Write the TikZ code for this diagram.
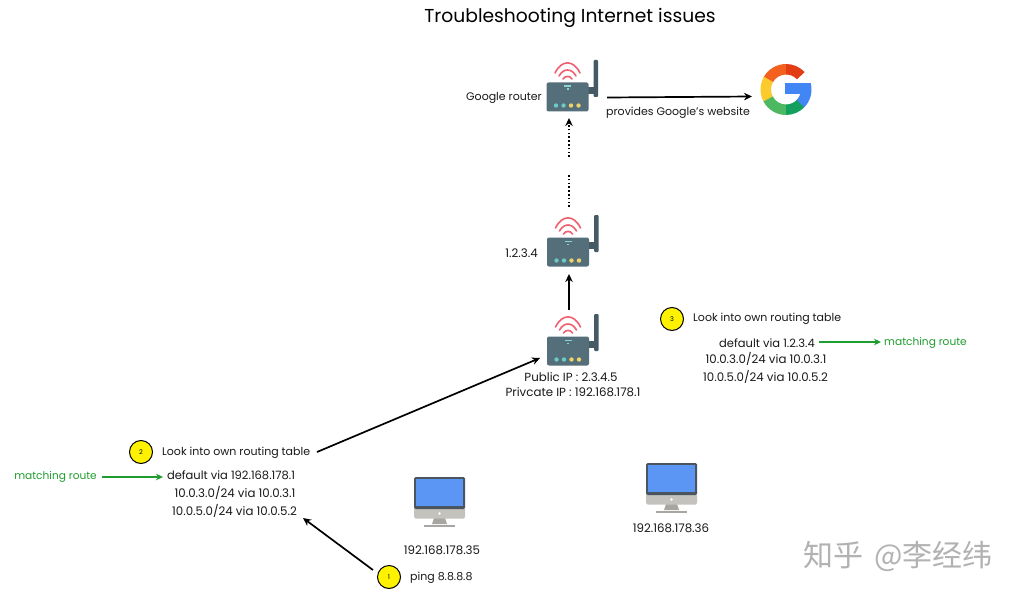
\documentclass[tikz,border=0pt]{standalone}
\usepackage{fontspec}
\setmainfont{Poppins}
\newfontfamily\cjkfont{Noto Sans CJK SC}
\usetikzlibrary{arrows.meta}
\definecolor{routerbody}{HTML}{546E7A}
\definecolor{antenna}{HTML}{455A64}
\definecolor{wifired}{HTML}{EF5F70}
\definecolor{ledcyan}{HTML}{6CCBC4}
\definecolor{ledyellow}{HTML}{EFD36A}
\definecolor{greenroute}{HTML}{1E9E2E}
\definecolor{screenblue}{HTML}{5B96F5}
\definecolor{monframe}{HTML}{4A5560}
\definecolor{monchin}{HTML}{C4C2BC}
\definecolor{monstand}{HTML}{A8A6A0}
\definecolor{gblue}{HTML}{4285F4}
\definecolor{ggreen}{HTML}{4CB861}
\definecolor{gdark}{HTML}{12A05C}
\definecolor{gyellow}{HTML}{FBCB2D}
\definecolor{gorange}{HTML}{F4611E}
\definecolor{gred}{HTML}{E23D15}
\tikzset{
  lbl/.style={font=\fontsize{11}{12}\selectfont, inner sep=0pt, text=black!90},
  numlbl/.style={font=\fontsize{11.8}{13}\selectfont, inner sep=0pt, text=black!90},
  deflbl/.style={font=\fontsize{11.5}{13}\selectfont, inner sep=0pt, text=black!90},
  greenlbl/.style={font=\fontsize{10.6}{12}\selectfont, inner sep=0pt, text=greenroute},
  arr/.style={-{Stealth[length=8pt,width=7.5pt]}, line width=1.7pt, black},
  dotarr/.style={-{Stealth[length=8pt,width=7.5pt]}, line width=1.6pt, black, dash pattern=on 1.6pt off 2.2pt},
  dotline/.style={line width=1.6pt, black, dash pattern=on 1.6pt off 2.2pt},
  greenarr/.style={-{Stealth[length=7pt,width=6.5pt]}, line width=1.4pt, greenroute},
  stepmark/.style={circle, draw=black, line width=1pt, fill=yellow, minimum size=23pt, inner sep=0pt, font=\fontsize{6.5}{7}\selectfont},
  routerbox/.style={rectangle, rounded corners=2pt, fill=routerbody, minimum width=42pt, minimum height=29pt, inner sep=0pt},
  wifi/.style={wifired, line width=1.6pt, line cap=round}
}
% #1 name, #2 x of body centre, #3 y of body centre
\newcommand{\routerdraw}[3]{%
  \fill[antenna, rounded corners=1pt] (#2+26,#3-37) rectangle (#2+30.5,#3+0);
  \fill[antenna] (#2+20,#3-10) rectangle (#2+27,#3-3);
  \node[routerbox] (#1) at (#2,#3) {};
  \draw[wifi] (#2-12.5,#3-24) .. controls (#2-6,#3-37.5) and (#2+6,#3-37.5) .. (#2+12.5,#3-24);
  \draw[wifi] (#2-8.5,#3-21) .. controls (#2-4,#3-29) and (#2+4,#3-29) .. (#2+8.5,#3-21);
  \draw[wifi] (#2-4.5,#3-18) .. controls (#2-2,#3-21.5) and (#2+2,#3-21.5) .. (#2+4.5,#3-18);
  \fill[ledcyan!80!white] (#2-3.5,#3-11.5) rectangle (#2+3.5,#3-10);
  \fill[ledcyan!80!white] (#2-1,#3-8.5) rectangle (#2+1,#3-7);
  \fill[ledcyan] (#2-11.5,#3+8.5) circle (2.2);
  \fill[ledcyan] (#2-4,#3+8.5) circle (2.2);
  \fill[ledyellow] (#2+3.5,#3+8.5) circle (2.2);
  \fill[ledyellow] (#2+11,#3+8.5) circle (2.2);
}
% #1 name, #2 left x, #3 top y
\newcommand{\monitordraw}[3]{%
  \fill[monstand] (#2+20,#3+41) -- (#2+31,#3+41) -- (#2+33,#3+47) -- (#2+18,#3+47) -- cycle;
  \fill[monstand] (#2+10,#3+47.5) rectangle (#2+41,#3+49.5);
  \fill[monchin, rounded corners=1.5pt] (#2,#3+28) rectangle (#2+51,#3+41.5);
  \fill[monframe, rounded corners=1.5pt] (#2,#3) rectangle (#2+51,#3+32);
  \node[fill=screenblue, minimum width=47pt, minimum height=27pt, inner sep=0pt] (#1) at (#2+25.5,#3+15) {};
  \fill[white] (#2+25.5,#3+36.5) circle (1.3);
}
\newcommand{\gsector}[3]{%
  \fill[#1] (#2:25.5) arc[start angle=#2, end angle=#3, radius=25.5]
    -- (#3:15) arc[start angle=#3, end angle=#2, radius=15] -- cycle;
}
\begin{document}
\begin{tikzpicture}[x=1pt,y=-1pt]
\useasboundingbox (0,0) rectangle (1016,596);
\fill[white] (0,0) rectangle (1016,596);

\node[font=\fontsize{18.7}{20}\selectfont, inner sep=0pt, text=black] (title) at (570,18) {Troubleshooting Internet issues};

\routerdraw{rgoogle}{567.5}{97}
\routerdraw{rmid}{568}{252}
\routerdraw{rhome}{568}{351}

% Google logo
\begin{scope}[shift={(786,89.5)}]
  \gsector{gorange}{208}{272}
  \gsector{gred}{270}{317}
  \gsector{gyellow}{150}{210}
  \gsector{ggreen}{88}{152}
  \gsector{gdark}{42}{90}
  \gsector{gblue}{-13}{44}
  \fill[gblue] (-1,-6) rectangle (25,5);
\end{scope}

\monitordraw{pcone}{414}{477}
\monitordraw{pctwo}{646}{463}

% labels
\node[lbl, anchor=east] (lgoogle) at (542,98) {Google router};
\node[lbl] (lprov) at (678,113) {provides Google's website};
\node[numlbl, anchor=east] (lmid) at (538,253) {1.2.3.4};
\node[numlbl] (lpub) at (571,377) {Public IP : 2.3.4.5};
\node[numlbl] (lpriv) at (573,392) {Privcate IP : 192.168.178.1};

\node[stepmark] (s3) at (672,319) {3};
\node[lbl, anchor=west] (t3) at (693,319) {Look into own routing table};
\node[deflbl] (t3a) at (767,343) {default via 1.2.3.4};
\node[numlbl] (t3b) at (766,359) {10.0.3.0/24 via 10.0.3.1};
\node[numlbl] (t3c) at (765.5,377) {10.0.5.0/24 via 10.0.5.2};
\node[greenlbl, anchor=west] (m3) at (884,343) {matching route};

\node[stepmark] (s2) at (141,452) {2};
\node[lbl, anchor=west] (t2) at (162,453) {Look into own routing table};
\node[deflbl] (t2a) at (231,475) {default via 192.168.178.1};
\node[numlbl] (t2b) at (235,493) {10.0.3.0/24 via 10.0.3.1};
\node[numlbl] (t2c) at (234.5,511) {10.0.5.0/24 via 10.0.5.2};
\node[greenlbl, anchor=east] (m2) at (97,477) {matching route};

\node[numlbl] (ip35) at (442,550) {192.168.178.35};
\node[stepmark] (s1) at (389,577) {1};
\node[lbl, anchor=west] (ping) at (410,578) {ping 8.8.8.8};
\node[numlbl] (ip36) at (671,528) {192.168.178.36};

\node[font=\cjkfont\fontsize{30}{32}\selectfont, inner sep=0pt, text=black!30, anchor=west] (mark) at (803,556) {知乎\hspace{11pt}@李经纬};

% free ends of the connectors
\coordinate (rgoogleout) at (607,97.5);
\coordinate (googlein) at (752,96.5);
\coordinate (dotup) at (569,118);
\coordinate (dotupstart) at (569,157);
\coordinate (dotlow) at (569,173);
\coordinate (dotlowend) at (569,207);
\coordinate (midin) at (569,274);
\coordinate (homeout) at (569,310);
\coordinate (homein) at (540,358);
\coordinate (tableout) at (317,452);
\coordinate (tablein) at (303,518);
\coordinate (pingout) at (373,570);
\coordinate (matchstart) at (102,477);
\coordinate (matchend) at (163,477);
\coordinate (matchstartb) at (819,342);
\coordinate (matchendb) at (881,342);

% connectors
\draw[arr] (rgoogleout) -- (googlein);
\draw[dotarr] (dotupstart) -- (dotup);
\draw[dotline] (dotlowend) -- (dotlow);
\draw[arr] (homeout) -- (midin);
\draw[arr] (tableout) -- (homein);
\draw[arr] (pingout) -- (tablein);
\draw[greenarr] (matchstart) -- (matchend);
\draw[greenarr] (matchstartb) -- (matchendb);
\end{tikzpicture}
\end{document}
